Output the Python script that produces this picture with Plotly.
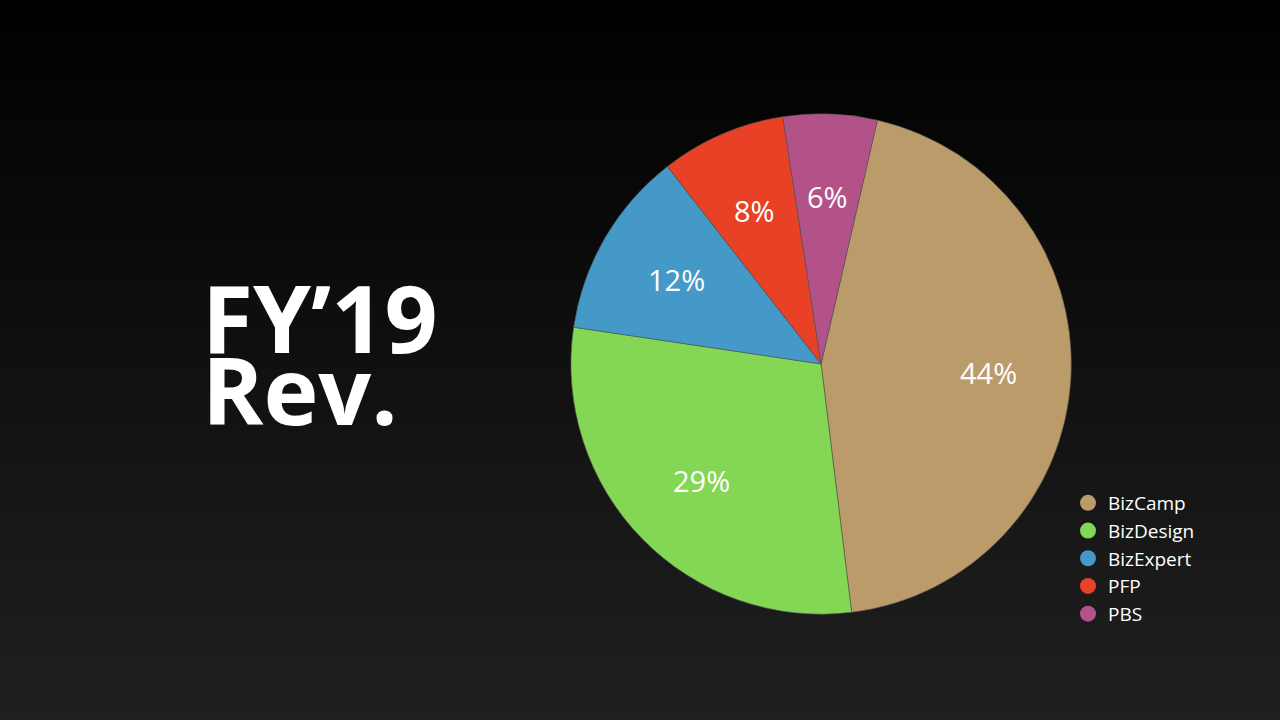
import math
import plotly.graph_objects as go

labels = ["BizCamp", "BizDesign", "BizExpert", "PFP", "PBS"]
values = [44, 29, 12, 8, 6]
colors = ["#BC9B6A", "#84D655", "#4599C9", "#E84126", "#B35289"]
title_lines = ["FY’19", "Rev."]

W, H = 1280, 720
start_angle = 13  # degrees clockwise from 12 o'clock
dom = dict(x=[0.446, 0.837], y=[0.147, 0.842])
label_r = 0.67  # label radius as a fraction of the pie radius

fig = go.Figure()

fig.add_trace(go.Pie(
    labels=labels, values=values, sort=False, direction="clockwise", rotation=start_angle,
    marker=dict(colors=colors, line=dict(color="#555555", width=0.6)),
    textinfo="none", showlegend=False, hoverinfo="label+percent", domain=dom,
))

for lab, col in zip(labels, colors):
    fig.add_trace(go.Scatter(x=[None], y=[None], mode="markers", name=lab,
                             marker=dict(symbol="circle", size=18, color=col)))

# percentage labels at the middle angle of each slice, derived from the values
cx = (dom["x"][0] + dom["x"][1]) / 2 * W
cy = (1 - (dom["y"][0] + dom["y"][1]) / 2) * H
radius = min((dom["x"][1] - dom["x"][0]) * W, (dom["y"][1] - dom["y"][0]) * H) / 2
total = sum(values)
cum = 0
for v in values:
    th = math.radians(start_angle + 360 * (cum + v / 2) / total)
    cum += v
    px = cx + label_r * radius * math.sin(th)
    py = cy - label_r * radius * math.cos(th)
    fig.add_annotation(text=f"{round(100 * v / total)}%", x=px / W, y=1 - py / H,
                       xref="paper", yref="paper", xanchor="center", yanchor="middle",
                       showarrow=False, font=dict(family="Open Sans", size=29, color="white"))

# background gradient bands
n = 72
for i in range(n):
    g = int(round(0 + 32 * (i + 0.5) / n))
    fig.add_shape(type="rect", xref="paper", yref="paper", x0=0, x1=1,
                  y0=1 - (i + 1) / n, y1=1 - i / n + 0.001, line=dict(width=0),
                  fillcolor=f"rgb({g},{g},{g})", layer="below")

fig.add_annotation(text=f"<b>{title_lines[0]}</b>", x=200 / W, y=1 - 317 / H, xref="paper", yref="paper",
                   xanchor="left", yanchor="middle", showarrow=False,
                   font=dict(family="Open Sans", size=93, color="white"))
fig.add_annotation(text=f"<b>{title_lines[1]}</b>", x=200 / W, y=1 - 389 / H, xref="paper", yref="paper",
                   xanchor="left", yanchor="middle", showarrow=False,
                   font=dict(family="Open Sans", size=93, color="white"))

fig.update_layout(
    width=W, height=H, margin=dict(l=0, r=0, t=0, b=0),
    paper_bgcolor="#000000", plot_bgcolor="rgba(0,0,0,0)",
    xaxis=dict(visible=False), yaxis=dict(visible=False),
    legend=dict(x=1068 / W, y=1 - 484 / H, xanchor="left", yanchor="top",
                bgcolor="rgba(0,0,0,0)", font=dict(family="Open Sans", size=19, color="white"),
                itemwidth=30, tracegroupgap=0),
    font=dict(family="Open Sans"),
)

fig.write_html("out.html", config={"displayModeBar": False},
               post_script="document.body.style.margin='0';document.body.style.overflow='hidden';")
